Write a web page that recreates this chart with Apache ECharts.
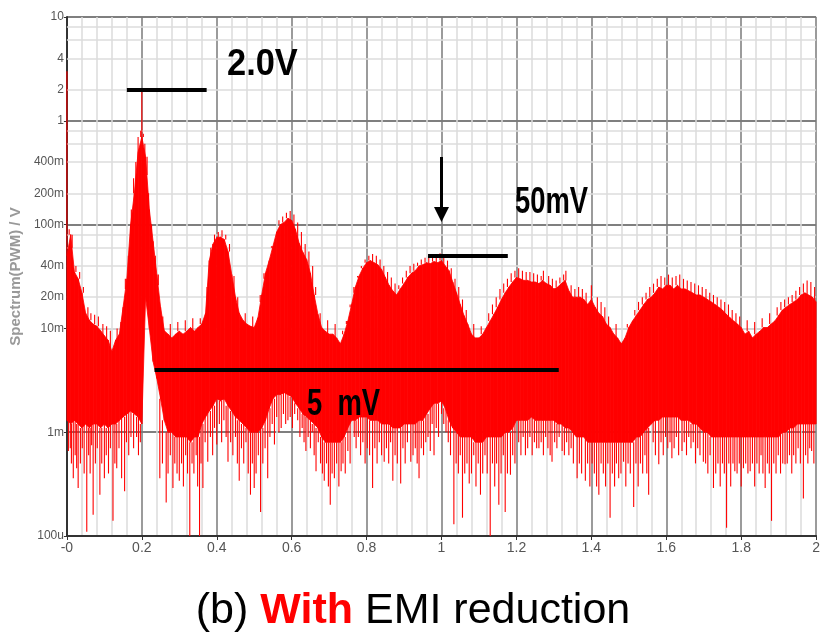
<!DOCTYPE html>
<html><head><meta charset="utf-8">
<script src="https://cdn.jsdelivr.net/npm/echarts@6/dist/echarts.min.js"></script>
<style>html,body{margin:0;padding:0;background:#fff}#c{width:823px;height:636px}</style>
</head><body><div id="c"></div>
<script>
// ---- data ----
const sampleStep = 0.01; // spacing of the envelope samples along x (0 .. 2)
const upperEnvelope = [
  0.05, 0.08, 0.035, 0.03, 0.022, 0.014, 0.012, 0.011, 0.0105, 0.0095,
  0.0085, 0.0077, 0.006, 0.0077, 0.0088, 0.016, 0.03, 0.1, 0.2, 0.5,
  0.7, 0.45, 0.14, 0.069, 0.033, 0.016, 0.0095, 0.0088, 0.0081, 0.0088,
  0.0094, 0.0088, 0.0094, 0.0102, 0.0094, 0.0102, 0.011, 0.014, 0.045, 0.065,
  0.075, 0.076, 0.072, 0.055, 0.033, 0.02, 0.014, 0.012, 0.011, 0.0105,
  0.0102, 0.0127, 0.021, 0.034, 0.045, 0.062, 0.085, 0.1, 0.105, 0.115,
  0.11, 0.09, 0.066, 0.054, 0.046, 0.034, 0.021, 0.0137, 0.0102, 0.0094,
  0.0088, 0.0088, 0.0081, 0.0071, 0.0088, 0.0118, 0.017, 0.025, 0.032, 0.038,
  0.043, 0.045, 0.043, 0.041, 0.037, 0.031, 0.026, 0.023, 0.021, 0.024,
  0.027, 0.031, 0.034, 0.036, 0.04, 0.041, 0.043, 0.042, 0.044, 0.043,
  0.045, 0.04, 0.036, 0.028, 0.022, 0.017, 0.0133, 0.011, 0.0088, 0.0081,
  0.0081, 0.0088, 0.0102, 0.0118, 0.0137, 0.016, 0.019, 0.022, 0.025, 0.028,
  0.031, 0.03, 0.029, 0.029, 0.028, 0.028, 0.027, 0.029, 0.027, 0.026,
  0.024, 0.025, 0.027, 0.029, 0.023, 0.02, 0.02, 0.02, 0.019, 0.017,
  0.019, 0.016, 0.014, 0.013, 0.011, 0.0102, 0.0088, 0.0081, 0.0071, 0.0081,
  0.0102, 0.0118, 0.0133, 0.015, 0.017, 0.019, 0.02, 0.022, 0.025, 0.024,
  0.026, 0.026, 0.024, 0.026, 0.024, 0.024, 0.023, 0.022, 0.021, 0.021,
  0.020, 0.019, 0.018, 0.017, 0.016, 0.015, 0.0137, 0.0127, 0.0118, 0.011,
  0.0102, 0.0088, 0.0094, 0.0081, 0.0088, 0.0094, 0.0102, 0.0102, 0.011, 0.0118,
  0.0133, 0.015, 0.016, 0.017, 0.018, 0.019, 0.021, 0.022, 0.021, 0.020,
  0.018
];
const lowerEnvelope = [
  0.0013, 0.0012, 0.0013, 0.0012, 0.0011, 0.0012, 0.0011, 0.0012, 0.0012, 0.0011,
  0.0012, 0.0011, 0.0012, 0.0012, 0.0013, 0.0014, 0.0015, 0.0016, 0.0015, 0.0014,
  0.0012, 0.020, 0.010, 0.0048, 0.0033, 0.0021, 0.0013, 0.0010, 0.0010, 0.0009,
  0.0009, 0.0009, 0.0009, 0.0008, 0.0009, 0.0009, 0.0012, 0.0014, 0.0016, 0.0018,
  0.0021, 0.0020, 0.0021, 0.0018, 0.0016, 0.0014, 0.0013, 0.0012, 0.0011, 0.0010,
  0.0010, 0.0010, 0.0011, 0.0013, 0.0017, 0.0021, 0.0023, 0.0023, 0.0024, 0.0023,
  0.0022, 0.0019, 0.0017, 0.0015, 0.0014, 0.0013, 0.0012, 0.0011, 0.0009, 0.0008,
  0.0008, 0.0008, 0.0008, 0.0008, 0.0009, 0.0011, 0.0013, 0.0013, 0.0014, 0.0014,
  0.0014, 0.0013, 0.0013, 0.0013, 0.0012, 0.0012, 0.0012, 0.0011, 0.0011, 0.0011,
  0.0012, 0.0012, 0.0012, 0.0012, 0.0013, 0.0013, 0.0015, 0.0017, 0.0019, 0.0019,
  0.0020, 0.0017, 0.0013, 0.0011, 0.0010, 0.0009, 0.0009, 0.0009, 0.0009, 0.0008,
  0.0008, 0.0008, 0.0009, 0.0009, 0.0009, 0.0009, 0.0009, 0.0010, 0.0010, 0.0011,
  0.0013, 0.0013, 0.0013, 0.0013, 0.0014, 0.0013, 0.0013, 0.0013, 0.0013, 0.0013,
  0.0013, 0.0012, 0.0012, 0.0011, 0.0011, 0.0010, 0.0009, 0.0009, 0.0009, 0.0008,
  0.0008, 0.0008, 0.0008, 0.0008, 0.0008, 0.0008, 0.0008, 0.0008, 0.0008, 0.0008,
  0.0008, 0.0008, 0.0009, 0.0009, 0.0010, 0.0011, 0.0012, 0.0013, 0.0013, 0.0014,
  0.0014, 0.0014, 0.0014, 0.0014, 0.0013, 0.0013, 0.0013, 0.0012, 0.0012, 0.0011,
  0.0010, 0.0010, 0.0009, 0.0009, 0.0009, 0.0009, 0.0009, 0.0009, 0.0009, 0.0009,
  0.0009, 0.0009, 0.0009, 0.0009, 0.0009, 0.0009, 0.0009, 0.0009, 0.0009, 0.0009,
  0.0009, 0.0010, 0.0010, 0.0011, 0.0011, 0.0012, 0.0012, 0.0012, 0.0012, 0.0012,
  0.0012
];
// [x, value] tips of the thin downward spikes under the noise band
const downSpikes = [
  [0.004, 0.00066], [0.009, 0.0007], [0.012, 0.0005], [0.017, 0.00036], [0.022, 0.0006], [0.026, 0.00045], [0.03, 0.00029],
  [0.036, 0.0005], [0.041, 0.0007], [0.046, 0.0004], [0.053, 0.00011], [0.058, 0.0006], [0.062, 0.0004], [0.066, 0.00075],
  [0.07, 0.00016], [0.076, 0.0005], [0.081, 0.0007], [0.088, 0.00025], [0.093, 0.0005], [0.10, 0.00036], [0.105, 0.0006],
  [0.111, 0.0004], [0.116, 0.0007], [0.123, 0.00014], [0.128, 0.0005], [0.133, 0.00045], [0.139, 0.0007], [0.146, 0.00036],
  [0.154, 0.00027], [0.159, 0.0008], [0.165, 0.0006], [0.171, 0.0009], [0.178, 0.0007], [0.186, 0.0009], [0.191, 0.0006], [0.196, 0.0008],
  [0.248, 0.00036], [0.255, 0.0005], [0.265, 0.00021], [0.27, 0.0004], [0.276, 0.0006], [0.283, 0.00029], [0.288, 0.0005],
  [0.294, 0.0004], [0.30, 0.00034], [0.306, 0.0005], [0.311, 0.0003], [0.317, 0.0006], [0.322, 0.0004], [0.328, 0.0001],
  [0.334, 0.0005], [0.339, 0.0004], [0.345, 0.0006], [0.349, 0.0003], [0.354, 0.0001], [0.358, 0.0005], [0.363, 0.00029],
  [0.369, 0.0008], [0.376, 0.00052], [0.383, 0.0009], [0.389, 0.0006], [0.394, 0.0011], [0.40, 0.00076], [0.407, 0.0012],
  [0.413, 0.0008], [0.419, 0.0013], [0.425, 0.0009], [0.43, 0.00052], [0.437, 0.0008], [0.443, 0.0006], [0.45, 0.0009],
  [0.455, 0.0005], [0.46, 0.00034], [0.466, 0.0007], [0.472, 0.0005], [0.478, 0.0008], [0.484, 0.0004], [0.49, 0.00025],
  [0.495, 0.0005], [0.50, 0.00029], [0.505, 0.0004], [0.511, 0.0006], [0.517, 0.00017], [0.523, 0.0005], [0.529, 0.0007],
  [0.536, 0.00036], [0.542, 0.0009], [0.548, 0.0012], [0.554, 0.00076], [0.56, 0.0014], [0.566, 0.0010], [0.572, 0.0011],
  [0.578, 0.0015], [0.584, 0.0012], [0.59, 0.0013], [0.596, 0.0014], [0.602, 0.0011], [0.608, 0.0015], [0.616, 0.0013],
  [0.622, 0.0009], [0.628, 0.0011], [0.633, 0.0008], [0.638, 0.00066], [0.644, 0.0009], [0.65, 0.0007], [0.655, 0.0010],
  [0.66, 0.0006], [0.665, 0.00042], [0.671, 0.0008], [0.677, 0.0005], [0.682, 0.0004], [0.687, 0.00034], [0.693, 0.0005],
  [0.698, 0.0003], [0.703, 0.0002], [0.708, 0.0004], [0.714, 0.00036], [0.72, 0.0005], [0.726, 0.0003], [0.732, 0.00042],
  [0.737, 0.0005], [0.743, 0.0004], [0.75, 0.00066], [0.756, 0.0005], [0.767, 0.0009], [0.772, 0.0007], [0.778, 0.0009],
  [0.784, 0.0006], [0.79, 0.0008], [0.796, 0.0005], [0.802, 0.0007], [0.808, 0.0006], [0.816, 0.00029], [0.822, 0.0007],
  [0.828, 0.0005], [0.834, 0.0008], [0.84, 0.0006], [0.847, 0.00052], [0.853, 0.0007], [0.859, 0.0005], [0.864, 0.0008],
  [0.87, 0.00034], [0.876, 0.0006], [0.882, 0.0005], [0.891, 0.00032], [0.897, 0.0007], [0.903, 0.0005], [0.909, 0.0008],
  [0.918, 0.00052], [0.924, 0.0006], [0.93, 0.0007], [0.935, 0.0005], [0.94, 0.00036], [0.946, 0.0007], [0.952, 0.0006],
  [0.958, 0.0008], [0.964, 0.0009], [0.97, 0.00066], [0.975, 0.0012], [0.98, 0.0006], [0.986, 0.0011], [0.992, 0.0009],
  [1.0, 0.0015], [1.006, 0.0012], [1.012, 0.001], [1.018, 0.0008], [1.024, 0.0006], [1.033, 0.00013], [1.039, 0.0005],
  [1.045, 0.0004], [1.05, 0.0006], [1.056, 0.00015], [1.062, 0.0004], [1.068, 0.0005], [1.074, 0.00032], [1.08, 0.0004],
  [1.086, 0.0006], [1.092, 0.0003], [1.098, 0.0005], [1.104, 0.00025], [1.11, 0.0004], [1.116, 0.0006], [1.122, 0.0004],
  [1.13, 0.0001], [1.136, 0.0005], [1.142, 0.0003], [1.147, 0.0005], [1.153, 0.0002], [1.159, 0.0004], [1.165, 0.0006],
  [1.17, 0.00017], [1.176, 0.0004], [1.184, 0.00039], [1.19, 0.0006], [1.196, 0.0005], [1.206, 0.0008], [1.212, 0.0006],
  [1.218, 0.0009], [1.224, 0.0006], [1.23, 0.0007], [1.236, 0.0009], [1.242, 0.0006], [1.248, 0.0008], [1.254, 0.0007],
  [1.26, 0.0007], [1.266, 0.0008], [1.272, 0.0006], [1.278, 0.0009], [1.284, 0.0007], [1.29, 0.0006], [1.295, 0.00052],
  [1.302, 0.0008], [1.308, 0.0007], [1.314, 0.0009], [1.322, 0.00066], [1.328, 0.0006], [1.334, 0.0008], [1.34, 0.0006],
  [1.346, 0.0007], [1.352, 0.0005], [1.362, 0.00036], [1.368, 0.0005], [1.374, 0.0004], [1.384, 0.00034], [1.39, 0.0005],
  [1.396, 0.0003], [1.402, 0.0005], [1.408, 0.0004], [1.414, 0.0003], [1.42, 0.00025], [1.426, 0.0005], [1.432, 0.0004],
  [1.438, 0.0003], [1.444, 0.0005], [1.45, 0.00015], [1.456, 0.0004], [1.462, 0.0003], [1.467, 0.0005], [1.473, 0.00036],
  [1.479, 0.0004], [1.486, 0.00052], [1.492, 0.0003], [1.498, 0.0005], [1.504, 0.0004], [1.513, 0.00019], [1.519, 0.0005],
  [1.525, 0.0003], [1.531, 0.0005], [1.537, 0.0004], [1.543, 0.0006], [1.548, 0.0004], [1.553, 0.00025], [1.565, 0.0008],
  [1.571, 0.0006], [1.58, 0.00049], [1.586, 0.0008], [1.592, 0.0006], [1.598, 0.0009], [1.604, 0.0007], [1.61, 0.0008],
  [1.615, 0.00056], [1.621, 0.0007], [1.627, 0.0009], [1.633, 0.0006], [1.642, 0.00066], [1.648, 0.0008], [1.654, 0.0006],
  [1.66, 0.0009], [1.666, 0.0007], [1.672, 0.0008], [1.678, 0.0005], [1.684, 0.0007], [1.69, 0.0006], [1.699, 0.00052],
  [1.705, 0.0005], [1.711, 0.0004], [1.717, 0.0006], [1.726, 0.00029], [1.732, 0.0004], [1.738, 0.0005], [1.744, 0.0003],
  [1.75, 0.0005], [1.755, 0.0004], [1.761, 0.00012], [1.767, 0.0005], [1.772, 0.0003], [1.778, 0.0005], [1.783, 0.00042],
  [1.789, 0.0004], [1.795, 0.0005], [1.8, 0.0003], [1.806, 0.00045], [1.812, 0.0005], [1.818, 0.0004], [1.824, 0.00042],
  [1.83, 0.0005], [1.836, 0.0003], [1.842, 0.0005], [1.848, 0.0004], [1.853, 0.0006], [1.858, 0.0004], [1.864, 0.00029],
  [1.87, 0.0005], [1.875, 0.0004], [1.881, 0.00014], [1.887, 0.0005], [1.893, 0.0004], [1.899, 0.0006], [1.905, 0.0004],
  [1.911, 0.0005], [1.917, 0.00049], [1.923, 0.0005], [1.929, 0.0006], [1.935, 0.0004], [1.94, 0.0006], [1.946, 0.0005],
  [1.952, 0.0007], [1.958, 0.0005], [1.966, 0.00023], [1.972, 0.0006], [1.978, 0.0005], [1.983, 0.0007], [1.988, 0.00066],
  [1.994, 0.0005]
];
// [x, value] tips of the thin upward spikes on top of the noise band
const upSpikes = [
  [0.0, 3.0], [0.006, 0.09], [0.014, 0.06], [0.024, 0.04], [0.034, 0.035], [0.044, 0.025], [0.056, 0.016], [0.064, 0.014],
  [0.074, 0.0135], [0.084, 0.013], [0.096, 0.011], [0.106, 0.0105], [0.116, 0.0095], [0.134, 0.01], [0.144, 0.0115],
  [0.156, 0.024], [0.164, 0.05], [0.172, 0.14], [0.178, 0.28], [0.184, 0.4], [0.19, 0.7], [0.197, 0.8], [0.2, 2.0],
  [0.204, 0.75], [0.208, 0.6], [0.214, 0.3], [0.218, 0.2], [0.226, 0.1], [0.236, 0.05], [0.244, 0.026], [0.256, 0.013],
  [0.276, 0.011], [0.296, 0.0115], [0.316, 0.012], [0.336, 0.0125], [0.356, 0.0125], [0.374, 0.025], [0.384, 0.06],
  [0.394, 0.08], [0.404, 0.085], [0.414, 0.088], [0.424, 0.08], [0.434, 0.065], [0.446, 0.032], [0.456, 0.02], [0.476, 0.014],
  [0.496, 0.013], [0.516, 0.018], [0.526, 0.03], [0.536, 0.045], [0.546, 0.06], [0.556, 0.085], [0.566, 0.11], [0.576, 0.12],
  [0.586, 0.13], [0.596, 0.135], [0.606, 0.125], [0.616, 0.105], [0.626, 0.085], [0.636, 0.065], [0.646, 0.055], [0.656, 0.04],
  [0.664, 0.025], [0.676, 0.014], [0.696, 0.012], [0.716, 0.011], [0.736, 0.0095], [0.746, 0.011], [0.756, 0.016], [0.766, 0.022],
  [0.776, 0.031], [0.786, 0.04], [0.796, 0.046], [0.806, 0.05], [0.816, 0.052], [0.826, 0.05], [0.836, 0.046], [0.846, 0.04],
  [0.856, 0.035], [0.866, 0.031], [0.876, 0.027], [0.886, 0.026], [0.896, 0.031], [0.906, 0.036], [0.916, 0.04], [0.926, 0.042],
  [0.936, 0.043], [0.946, 0.046], [0.956, 0.048], [0.966, 0.05], [0.976, 0.05], [0.986, 0.05], [0.996, 0.053], [1.006, 0.05],
  [1.016, 0.045], [1.026, 0.038], [1.036, 0.03], [1.046, 0.025], [1.056, 0.019], [1.066, 0.015], [1.086, 0.011], [1.106, 0.0105],
  [1.126, 0.014], [1.136, 0.017], [1.146, 0.02], [1.156, 0.024], [1.166, 0.027], [1.176, 0.03], [1.186, 0.034], [1.196, 0.036],
  [1.206, 0.038], [1.216, 0.036], [1.226, 0.035], [1.236, 0.035], [1.246, 0.034], [1.256, 0.033], [1.266, 0.032], [1.272, 0.036],
  [1.286, 0.032], [1.296, 0.03], [1.306, 0.029], [1.316, 0.031], [1.326, 0.033], [1.332, 0.036], [1.346, 0.026], [1.356, 0.024],
  [1.366, 0.025], [1.376, 0.024], [1.386, 0.022], [1.4, 0.026], [1.416, 0.02], [1.426, 0.018], [1.436, 0.016], [1.446, 0.013],
  [1.466, 0.011], [1.496, 0.011], [1.516, 0.015], [1.526, 0.018], [1.536, 0.02], [1.546, 0.022], [1.556, 0.025], [1.566, 0.027],
  [1.576, 0.03], [1.586, 0.032], [1.596, 0.031], [1.606, 0.033], [1.616, 0.031], [1.626, 0.032], [1.636, 0.033], [1.646, 0.03],
  [1.656, 0.029], [1.666, 0.028], [1.676, 0.027], [1.686, 0.026], [1.696, 0.025], [1.706, 0.024], [1.716, 0.022], [1.726, 0.021],
  [1.736, 0.02], [1.746, 0.019], [1.756, 0.018], [1.766, 0.017], [1.776, 0.015], [1.786, 0.014], [1.796, 0.013], [1.816, 0.012],
  [1.836, 0.0115], [1.856, 0.0125], [1.876, 0.014], [1.896, 0.016], [1.906, 0.018], [1.916, 0.019], [1.926, 0.02], [1.936, 0.021],
  [1.946, 0.023], [1.956, 0.025], [1.966, 0.027], [1.976, 0.029], [1.986, 0.028], [1.996, 0.025]
];

const xAxisMin = 0, xAxisMax = 2, xAxisStep = 0.2;
const yDecadeLabels = { '-4': '100u', '-3': '1m', '-2': '10m', '-1': '100m', '0': '1', '1': '10' };
const yMinorValues = [2e-4, 4e-4, 6e-4, 8e-4, 2e-3, 4e-3, 6e-3, 8e-3, 2e-2, 4e-2, 6e-2, 8e-2, 0.2, 0.4, 0.6, 0.8, 2, 4, 6, 8];
const yMinorLabels = ['200u', '400u', '', '', '2m', '4m', '', '', '20m', '40m', '', '', '200m', '400m', '', '', '2', '4', '', ''];

// ---- build series data from the arrays ----
const bandData = [];
for (let i = 0; i < upperEnvelope.length - 1; i++) {
  bandData.push([i * sampleStep, (i + 1) * sampleStep, upperEnvelope[i], upperEnvelope[i + 1], lowerEnvelope[i], lowerEnvelope[i + 1]]);
}
const spikeData = [];
downSpikes.forEach(([x, v]) => spikeData.push([x, lowerEnvelope[Math.round(x / sampleStep)], v]));
upSpikes.forEach(([x, v]) => spikeData.push([x, upperEnvelope[Math.round(x / sampleStep)], v]));

const labelFont = '"Liberation Sans Narrow", "Liberation Sans", sans-serif';
const annFont = 'bold 37px "Liberation Sans"';
const chart = echarts.init(document.getElementById('c'), null, { renderer: 'canvas' });
chart.setOption({
  animation: false,
  backgroundColor: '#fff',
  grid: { left: 66, right: 6, top: 17, bottom: 100 },
  xAxis: {
    type: 'value', min: xAxisMin, max: xAxisMax, interval: xAxisStep,
    axisLine: { show: true, onZero: false, lineStyle: { color: '#333', width: 2 } },
    axisTick: { show: true, length: 4, lineStyle: { color: '#333' } },
    axisLabel: { color: '#555', fontSize: 14, fontFamily: labelFont, margin: 5,
      formatter: v => (v === 0 ? '-0' : String(+v.toFixed(1))) },
    splitLine: { show: true, lineStyle: { color: '#7a7a7a', width: 1.5 } },
    minorTick: { show: false, splitNumber: 5 },
    minorSplitLine: { show: true, lineStyle: { color: '#dcdcdc', width: 1.5 } }
  },
  yAxis: {
    type: 'log', logBase: 10, min: 1e-4, max: 10,
    axisLine: { show: true, lineStyle: { color: '#333', width: 2 } },
    axisTick: { show: true, length: 3, lineStyle: { color: '#333' } },
    axisLabel: { color: '#555', fontSize: 12, fontFamily: labelFont, margin: 3,
      formatter: v => yDecadeLabels[String(Math.round(Math.log10(v)))] },
    splitLine: { show: true, lineStyle: { color: '#555', width: 1.5 } },
    name: 'Spectrum(PWM) / V', nameLocation: 'middle', nameGap: 40,
    nameTextStyle: { color: '#999', fontSize: 15, fontWeight: 'bold', fontFamily: '"Liberation Sans", sans-serif' }
  },
  series: [
    {
      type: 'line', z: 1, data: [[0, 1e-4]], showSymbol: false, lineStyle: { width: 0 }, silent: true,
      markLine: {
        z: 1, silent: true, symbol: ['none', 'none'], animation: false,
        lineStyle: { color: '#dcdcdc', width: 1.5, type: 'solid' },
        emphasis: { disabled: true },
        data: yMinorValues.map((v, i) => ({
          yAxis: v,
          label: yMinorLabels[i]
            ? { show: true, position: 'start', formatter: yMinorLabels[i], color: '#555', fontSize: 12, fontFamily: labelFont, distance: 3 }
            : { show: false }
        }))
      }
    },
    {
      type: 'custom', z: 3, silent: true,
      encode: { x: [0, 1], y: [2, 3, 4, 5] },
      data: bandData,
      renderItem: (params, api) => {
        const pts = [
          api.coord([api.value(0), api.value(2)]),
          api.coord([api.value(1), api.value(3)]),
          api.coord([api.value(1), api.value(5)]),
          api.coord([api.value(0), api.value(4)])
        ];
        return { type: 'polygon', shape: { points: pts }, style: { fill: '#ff0000', stroke: '#ff0000', lineWidth: 0.8 } };
      }
    },
    {
      type: 'custom', z: 3, silent: true,
      encode: { x: 0, y: [1, 2] },
      data: spikeData,
      renderItem: (params, api) => {
        const a = api.coord([api.value(0), api.value(1)]);
        const b = api.coord([api.value(0), api.value(2)]);
        return { type: 'line', shape: { x1: a[0], y1: a[1], x2: b[0], y2: b[1] }, style: { stroke: '#ff0000', lineWidth: 1.1 } };
      }
    },
    {
      type: 'line', z: 6, data: [[0, 1e-4]], showSymbol: false, lineStyle: { width: 0 }, silent: true,
      markLine: {
        z: 6, silent: true, animation: false, symbol: ['none', 'none'],
        label: { show: false },
        emphasis: { disabled: true },
        lineStyle: { color: '#000', width: 4, type: 'solid' },
        data: [
          [{ coord: [0.16, 2.0] }, { coord: [0.373, 2.0] }],
          [{ coord: [0.964, 0.05] }, { coord: [1.177, 0.05] }],
          [{ coord: [0.234, 0.004] }, { coord: [1.313, 0.004] }],
          [{ coord: [1.0, 0.448], symbol: 'none' }, { coord: [1.0, 0.125], symbol: 'triangle', symbolSize: [15, 15], lineStyle: { width: 3 } }]
        ]
      }
    }
  ],
  graphic: [
    { type: 'text', x: 227, y: 46, scaleX: 0.93, z: 100, style: { text: '2.0V', font: annFont, fill: '#000' } },
    { type: 'text', x: 515, y: 184, scaleX: 0.74, z: 100, style: { text: '50mV', font: annFont, fill: '#000' } },
    { type: 'text', x: 307, y: 386, scaleX: 0.74, z: 100, style: { text: '5  mV', font: annFont, fill: '#000' } },
    { type: 'text', x: 413, y: 611, z: 100,
      style: { text: '{a|(b) }{b|With}{a| EMI reduction}', align: 'center', verticalAlign: 'middle',
        rich: { a: { font: '43px "Liberation Sans"', fill: '#000' }, b: { font: 'bold 43px "Liberation Sans"', fill: '#ff0000' } } } }
  ]
});
</script></body></html>
